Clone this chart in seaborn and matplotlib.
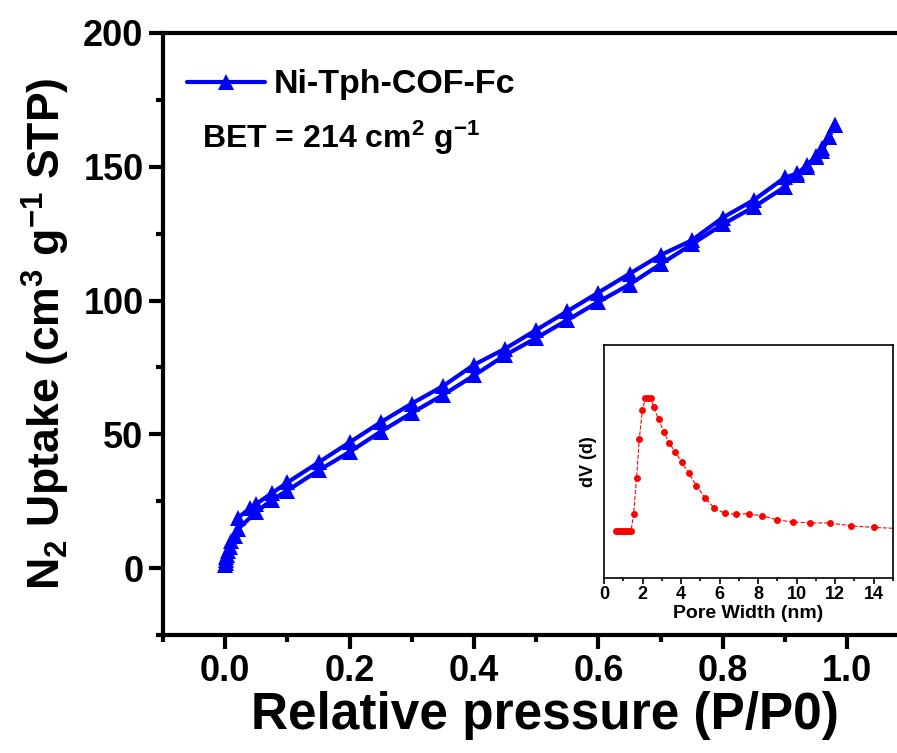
import matplotlib
matplotlib.use("Agg")
import matplotlib.pyplot as plt
import seaborn as sns
import pandas as pd
import numpy as np
from matplotlib.ticker import MultipleLocator

# ---------------- data ----------------
ads_p = [0.0002, 0.0005, 0.001, 0.002, 0.003, 0.005, 0.007, 0.01, 0.015, 0.02,
         0.05, 0.075, 0.1, 0.15, 0.2, 0.25, 0.3, 0.35, 0.4, 0.45, 0.5, 0.55,
         0.6, 0.65, 0.7, 0.75, 0.8, 0.85, 0.9, 0.92, 0.935, 0.95, 0.96, 0.97, 0.98]
ads_v = [1, 2, 3, 4, 5, 6.5, 8, 10, 12, 14.5,
         21, 25.5, 29, 36.5, 43.4, 51, 58, 64.7, 72, 79.6, 86, 92.7,
         99.5, 106, 113.6, 121, 128.5, 135, 142.5, 147, 150, 153.5, 156, 161, 165.5]
des_p = [0.98, 0.97, 0.96, 0.95, 0.935, 0.92, 0.9, 0.85, 0.8, 0.75, 0.7, 0.65,
         0.6, 0.55, 0.5, 0.45, 0.4, 0.35, 0.3, 0.25, 0.2, 0.15, 0.1, 0.075,
         0.05, 0.04, 0.02]
des_v = [165.5, 161, 157, 154, 150.5, 147.5, 146, 137.6, 131, 122.5, 117, 110,
         103, 96, 89, 82, 76, 68, 61.5, 54.5, 47, 39.5, 32, 28,
         24, 22.4, 18.7]

pore_w = [0.6, 0.7, 0.8, 0.9, 1.0, 1.1, 1.2, 1.3, 1.4, 1.54, 1.69, 1.83, 1.99,
          2.14, 2.28, 2.42, 2.59, 2.83, 3.11, 3.37, 3.70, 4.04, 4.40, 4.80,
          5.25, 5.73, 6.27, 6.84, 7.50, 8.20, 8.96, 9.79, 10.69, 11.71, 12.82,
          14.0, 16.0]
pore_dv = [20, 20, 20, 20, 20, 20, 20, 20, 20, 27.6, 42.9, 59.6, 71.9,
           77.1, 77.1, 77.1, 73.4, 68.1, 62.6, 58.1, 54.1, 49.7, 44.9, 39.6,
           34.3, 30.0, 27.7, 27.4, 27.6, 26.7, 25.0, 24.0, 23.7, 23.6, 22.4,
           21.7, 21.0]

series_name = "Ni-Tph-COF-Fc"
x_ticks = [0.0, 0.2, 0.4, 0.6, 0.8, 1.0]
y_ticks = [0, 50, 100, 150, 200]
inset_ticks = [0, 2, 4, 6, 8, 10, 12, 14]

# ---------------- style ----------------
sns.set_style("ticks")
plt.rcParams["font.family"] = ["Liberation Sans", "DejaVu Sans"]
plt.rcParams["font.weight"] = "bold"
plt.rcParams["mathtext.fontset"] = "custom"
plt.rcParams["mathtext.rm"] = "Liberation Sans:bold"
plt.rcParams["mathtext.bf"] = "Liberation Sans:bold"
plt.rcParams["mathtext.it"] = "Liberation Sans:bold"
plt.rcParams["mathtext.default"] = "bf"
for k in ["text.color", "axes.labelcolor", "xtick.color", "ytick.color",
          "axes.edgecolor"]:
    plt.rcParams[k] = "black"

BLUE = "#0000FF"
RED = "#FF0000"

fig = plt.figure(figsize=(8.97, 7.53), dpi=100)
ax = fig.add_axes([163/897, 1-635/753, 1-163/897, (635-33)/753])

ads = pd.DataFrame({"p": ads_p, "v": ads_v})
des = pd.DataFrame({"p": des_p, "v": des_v})
sns.lineplot(data=ads, x="p", y="v", ax=ax, color=BLUE, lw=3, marker="^",
             markersize=12, markeredgewidth=0, sort=False, label=series_name)
sns.lineplot(data=des, x="p", y="v", ax=ax, color=BLUE, lw=3, marker="^",
             markersize=12, markeredgewidth=0, sort=False)

ax.set_xlim(-0.1, -0.1 + (897-163)/622.0)
ax.set_ylim(-25, 200)
ax.set_xticks(x_ticks)
ax.set_xticklabels([f"{t:.1f}" for t in x_ticks])
ax.set_yticks(y_ticks)
ax.xaxis.set_minor_locator(MultipleLocator(0.1))
ax.yaxis.set_minor_locator(MultipleLocator(25))
ax.tick_params(axis="both", which="major", direction="out", length=10, width=3,
               labelsize=26, pad=4)
ax.tick_params(axis="both", which="minor", direction="out", length=5, width=3)
for lab in ax.get_xticklabels() + ax.get_yticklabels():
    lab.set_fontweight("bold")
for s in ["left", "bottom", "top"]:
    ax.spines[s].set_linewidth(3)
ax.spines["right"].set_visible(False)

ax.set_xlabel("Relative pressure (P/P0)", fontsize=37, fontweight="bold")
ax.xaxis.set_label_coords((545-163)/(897-163), -(716-635)/(635-33))
ax.xaxis.label.set_va("center")
ax.set_ylabel(r"N$_2$ Uptake (cm$^3$ g$^{-1}$ STP)", fontsize=32,
              fontweight="bold", labelpad=8)

leg = ax.legend(loc="center left", frameon=False, fontsize=24.5, handlelength=2.3,
                handletextpad=0.25, borderpad=0, borderaxespad=0,
                bbox_to_anchor=(187/897, 1-85/753), bbox_transform=fig.transFigure)
for t in leg.get_texts():
    t.set_fontweight("bold")

ax.text(202/897, 1-138/753, r"BET = 214 cm$^{2}$ g$^{-1}$", transform=fig.transFigure,
        fontsize=23, fontweight="bold", va="center", ha="left")

# ---------------- inset ----------------
axi = fig.add_axes([604/897, 1-578/753, (893-604)/897, (578-345)/753])
pore = pd.DataFrame({"w": pore_w, "dv": pore_dv})
sns.lineplot(data=pore, x="w", y="dv", ax=axi, color=RED, lw=0.8, ls="--",
             marker="o", markersize=5, markeredgewidth=0, sort=False)
axi.set_xlim(0, 15)
axi.set_ylim(0, 100)
axi.set_xticks(inset_ticks)
axi.xaxis.set_minor_locator(MultipleLocator(1))
axi.set_yticks([])
axi.tick_params(axis="x", which="major", direction="out", length=4, width=1.2,
                labelsize=13, pad=2)
axi.tick_params(axis="x", which="minor", direction="out", length=2, width=1.2)
for lab in axi.get_xticklabels():
    lab.set_fontweight("bold")
for s in axi.spines.values():
    s.set_linewidth(1.2)
axi.set_xlabel("Pore Width (nm)", fontsize=14, fontweight="bold", labelpad=1)
axi.set_ylabel("dV (d)", fontsize=13, fontweight="bold", labelpad=5)

fig.savefig("out.png", dpi=100)
